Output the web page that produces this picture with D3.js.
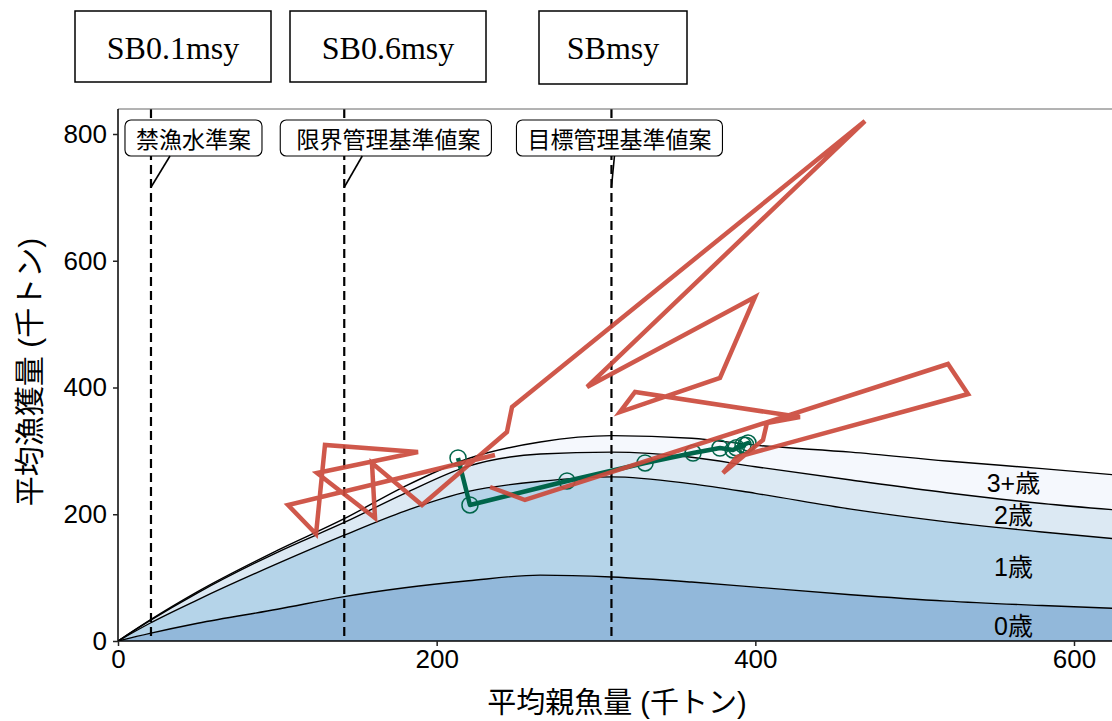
<!DOCTYPE html>
<html lang="ja">
<head>
  <meta charset="UTF-8">
  <title>平均漁獲量と平均親魚量</title>
  <script src="https://d3js.org/d3.v7.min.js"></script>
  <style>
    body {
      margin: 0;
      background: #fff;
    }
    svg {
      display: block;
      font-family: "Liberation Sans", "Noto Sans CJK JP", sans-serif;
    }
  </style>
</head>
<body>
  <svg id="chart" width="1112" height="721"></svg>

  <script>
    // equilibrium catch by age along mean spawning biomass (千トン)
    const sbGrid    = [0, 20, 50, 100, 142, 180, 220, 265, 310, 360, 400, 460, 520, 580, 640];
    const yieldAge0 = [0, 12, 28, 50, 70, 84, 95, 104, 101, 93, 85, 73, 63, 56, 50];
    const yieldAge1 = [0, 16, 37, 72, 97, 121, 141, 148, 158, 155, 148, 135, 125, 116, 108];
    const yieldAge2 = [0, 4, 11, 18, 20, 28, 40, 43, 39, 42, 42, 46, 46, 45, 46];
    const yieldAge3 = [0, 1, 2, 3, 6, 11, 12, 19, 26, 30, 34, 44, 50, 55, 55];
    const ageLabels = ["0歳", "1歳", "2歳", "3+歳"];
    const ageColors = ["#92b8da", "#b5d4e9", "#dce9f3", "#f5f8fd"];

    // reference points
    const refNames  = ["SB0.1msy", "SB0.6msy", "SBmsy"];
    const refLabels = ["禁漁水準案", " 限界管理基準値案", "目標管理基準値案"];
    const refSB     = [20.7, 142, 309.7];

    // observed trajectory
    const histSB    = [236.6, 106.7, 124.3, 129.9, 188.3, 124.9, 161.3, 159.4, 190.8, 244.1, 247.3, 468.8, 294.4,
                       399.8, 377.8, 315.0, 324.5, 428.0, 407.3, 404.8, 379.7, 388.5, 533.5, 520.9, 255.4, 233.5];
    const histCatch = [293.5, 214.6, 168.8, 309.3, 298.2, 265.1, 194.1, 280.9, 214.6, 329.8, 369.2, 820.5, 400.8,
                       542.8, 415.0, 361.3, 392.9, 353.3, 344.0, 317.2, 265.1, 290.3, 389.7, 437.1, 222.5, 243.0];

    // recent years
    const recentSB    = [213.4, 220.9, 281.8, 330.8, 360.9, 377.8, 386.0, 392.3, 395.4, 388.0, 394.0];
    const recentCatch = [288.8, 214.6, 252.5, 280.9, 296.6, 304.5, 301.4, 309.3, 312.4, 305.0, 309.0];

    const xTicks = [0, 200, 400, 600];
    const yTicks = [0, 200, 400, 600, 800];

    const svg = d3.select("#chart");
    const W = 1112, plotTop = 109;

    const x = d3.scaleLinear().domain([0, 600]).range([118, 1074]);
    const y = d3.scaleLinear().domain([0, 800]).range([641, 134]);

    svg.append("defs").append("clipPath").attr("id", "panel")
      .append("rect").attr("x", x(0)).attr("y", plotTop)
      .attr("width", W - x(0)).attr("height", y(0) - plotTop);

    const plot = svg.append("g").attr("clip-path", "url(#panel)");

    // stacked yield areas
    const rows = sbGrid.map((sb, i) => ({
      sb: sb,
      "0歳": yieldAge0[i], "1歳": yieldAge1[i], "2歳": yieldAge2[i], "3+歳": yieldAge3[i]
    }));
    const stacked = d3.stack().keys(ageLabels)(rows);

    const area = d3.area()
      .x(d => x(d.data.sb))
      .y0(d => y(d[0]))
      .y1(d => y(d[1]))
      .curve(d3.curveMonotoneX);
    const topLine = d3.line()
      .x(d => x(d.data.sb))
      .y(d => y(d[1]))
      .curve(d3.curveMonotoneX);

    plot.selectAll(".band").data(stacked).enter()
      .append("path")
      .attr("d", area)
      .attr("fill", (d, i) => ageColors[i]);

    plot.selectAll(".band-line").data(stacked).enter()
      .append("path")
      .attr("d", topLine)
      .attr("fill", "none")
      .attr("stroke", "#000")
      .attr("stroke-width", 1.4);

    // age labels, placed mid-band at SB = 562
    const labelSB = 562;
    const k = d3.bisectLeft(sbGrid, labelSB);
    const t = (labelSB - sbGrid[k - 1]) / (sbGrid[k] - sbGrid[k - 1]);
    stacked.forEach((s, i) => {
      const lo = s[k - 1][0] + t * (s[k][0] - s[k - 1][0]);
      const hi = s[k - 1][1] + t * (s[k][1] - s[k - 1][1]);
      svg.append("text")
        .attr("x", x(labelSB))
        .attr("y", y((lo + hi) / 2) + (i === 0 ? 3 : 0))
        .attr("text-anchor", "middle")
        .attr("dominant-baseline", "central")
        .attr("font-size", 25)
        .text(ageLabels[i]);
    });

    // reference lines
    plot.selectAll(".ref").data(refSB).enter()
      .append("line")
      .attr("x1", d => x(d)).attr("x2", d => x(d))
      .attr("y1", plotTop).attr("y2", y(0))
      .attr("stroke", "#000")
      .attr("stroke-width", 2.2)
      .attr("stroke-dasharray", "9,5");

    // recent trajectory
    const traj = d3.line().x(d => x(d[0])).y(d => y(d[1]));
    const recent = recentSB.map((v, i) => [v, recentCatch[i]]);
    plot.append("path")
      .attr("d", traj(recent))
      .attr("fill", "none")
      .attr("stroke", "#00654a")
      .attr("stroke-width", 4.5)
      .attr("stroke-linejoin", "round");
    plot.selectAll(".pt").data(recent).enter()
      .append("circle")
      .attr("cx", d => x(d[0])).attr("cy", d => y(d[1]))
      .attr("r", 8)
      .attr("fill", "none")
      .attr("stroke", "#00654a")
      .attr("stroke-width", 1.5);

    // historical trajectory
    const hist = histSB.map((v, i) => [v, histCatch[i]]);
    plot.append("path")
      .attr("d", traj(hist))
      .attr("fill", "none")
      .attr("stroke", "#cb4a3c")
      .attr("stroke-width", 4.5)
      .attr("stroke-opacity", 0.92)
      .attr("stroke-linejoin", "miter")
      .attr("stroke-miterlimit", 6);

    // axes
    svg.append("line").attr("x1", x(0)).attr("x2", W).attr("y1", plotTop).attr("y2", plotTop)
      .attr("stroke", "#666").attr("stroke-width", 1);
    svg.append("line").attr("x1", x(0)).attr("x2", x(0)).attr("y1", plotTop).attr("y2", y(0))
      .attr("stroke", "#000").attr("stroke-width", 1.5);
    svg.append("line").attr("x1", x(0)).attr("x2", W).attr("y1", y(0)).attr("y2", y(0))
      .attr("stroke", "#000").attr("stroke-width", 1.5);

    const yAxis = svg.append("g")
      .attr("transform", `translate(${x(0)},0)`)
      .call(d3.axisLeft(y).tickValues(yTicks).tickSize(5).tickPadding(6));
    const xAxis = svg.append("g")
      .attr("transform", `translate(0,${y(0)})`)
      .call(d3.axisBottom(x).tickValues(xTicks).tickSize(5).tickPadding(4));
    [xAxis, yAxis].forEach(a => {
      a.select(".domain").remove();
      a.selectAll(".tick line").attr("stroke", "#222").attr("stroke-width", 1.5);
      a.selectAll(".tick text")
        .attr("font-size", 26)
        .attr("font-family", "'Liberation Sans', sans-serif")
        .attr("fill", "#000");
    });

    svg.append("text")
      .attr("x", 617).attr("y", 703)
      .attr("text-anchor", "middle")
      .attr("dominant-baseline", "central")
      .attr("font-size", 29)
      .text("平均親魚量 (千トン)");
    svg.append("text")
      .attr("transform", "translate(29,372) rotate(-90)")
      .attr("text-anchor", "middle")
      .attr("dominant-baseline", "central")
      .attr("font-size", 30)
      .text("平均漁獲量 (千トン)");

    // labels on reference lines (box left / leader start relative to line, px)
    const boxShift    = [-26, -64, -95];
    const leaderShift = [19, 18, 3];
    const leaderEndY  = 716;
    refSB.forEach((sb, i) => {
      const g = svg.append("g");
      const txt = g.append("text")
        .attr("x", x(sb) + boxShift[i] + 11)
        .attr("y", 138)
        .attr("dominant-baseline", "central")
        .attr("font-size", 23)
        .attr("font-family", "'Noto Sans CJK JP', sans-serif")
        .style("white-space", "pre")
        .text(refLabels[i]);
      const w = txt.node().getComputedTextLength();
      g.insert("rect", "text")
        .attr("x", x(sb) + boxShift[i]).attr("y", 120)
        .attr("width", w + 22).attr("height", 36)
        .attr("rx", 6)
        .attr("fill", "#fff")
        .attr("stroke", "#000")
        .attr("stroke-width", 1.1);
      svg.append("line")
        .attr("x1", x(sb) + leaderShift[i]).attr("y1", 156)
        .attr("x2", x(sb)).attr("y2", y(leaderEndY))
        .attr("stroke", "#000").attr("stroke-width", 1.6);
    });

    // boxed reference names above the panel
    const nameBoxes = [[75, 196], [290, 196], [539, 148]];
    refNames.forEach((n, i) => {
      const [bx, bw] = nameBoxes[i];
      svg.append("rect")
        .attr("x", bx).attr("y", 11)
        .attr("width", bw).attr("height", i === 2 ? 73 : 71)
        .attr("fill", "#fff")
        .attr("stroke", "#000")
        .attr("stroke-width", 1.5);
      svg.append("text")
        .attr("x", bx + bw / 2).attr("y", 48)
        .attr("text-anchor", "middle")
        .attr("dominant-baseline", "central")
        .attr("font-family", "'Liberation Serif', serif")
        .attr("font-size", 32)
        .text(n);
    });
  </script>
</body>
</html>
